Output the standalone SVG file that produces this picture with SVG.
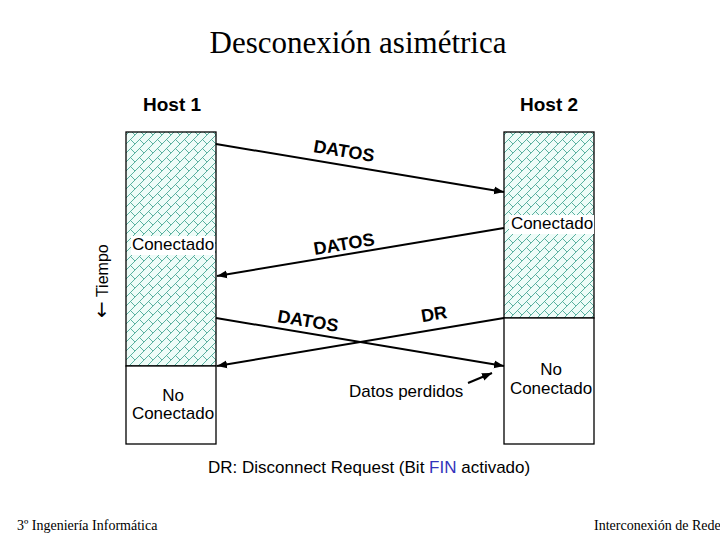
<svg xmlns="http://www.w3.org/2000/svg" width="720" height="540" viewBox="0 0 720 540">
<defs>
<pattern id="brick" width="9" height="9" patternUnits="userSpaceOnUse">
<rect width="9" height="9" fill="#eefcf8"/>
<path d="M0 9 L9 0 M-1 1 L1 -1 M8 10 L10 8 M4.5 4.5 L9 9" stroke="#4aa896" stroke-width="0.9" fill="none"/>
</pattern>
<marker id="ah" viewBox="0 0 10 10" refX="10" refY="5" markerWidth="5" markerHeight="5" orient="auto" markerUnits="strokeWidth">
<path d="M0 1 L10 5 L0 9 Z" fill="#000"/>
</marker>
<style>
.sans{font-family:"Liberation Sans",Arial,sans-serif;fill:#000}
.serif{font-family:"Liberation Serif","Times New Roman",serif;fill:#000}
.lbl{font-size:17px}
.bold{font-weight:bold}
.bar{stroke:#000;stroke-width:1.3}
.conn{stroke:#000;stroke-width:2;fill:none;marker-end:url(#ah)}
.bg{fill:#fff}
</style>
</defs>
<rect width="720" height="540" fill="#fff"/>
<text class="serif" x="358" y="53" font-size="31" text-anchor="middle">Desconexión asimétrica</text>
<g id="host1">
<text class="sans bold" x="143" y="111" font-size="19">Host 1</text>
<rect class="bar" x="126" y="132" width="90" height="234" fill="url(#brick)"/>
<rect class="bar" x="126" y="366" width="90" height="78" fill="#fff"/>
<rect class="bg" x="131" y="236" width="84" height="19"/>
<text class="sans lbl" x="173" y="250" text-anchor="middle">Conectado</text>
<text class="sans lbl" x="173" y="401" text-anchor="middle">No</text>
<text class="sans lbl" x="173" y="419" text-anchor="middle">Conectado</text>
</g>
<g id="host2">
<text class="sans bold" x="520" y="111" font-size="19">Host 2</text>
<rect class="bar" x="504" y="132" width="90" height="186" fill="url(#brick)"/>
<rect class="bar" x="504" y="318" width="90" height="126" fill="#fff"/>
<rect class="bg" x="509" y="215" width="85" height="19"/>
<text class="sans lbl" x="552" y="229" text-anchor="middle">Conectado</text>
<text class="sans lbl" x="551" y="375" text-anchor="middle">No</text>
<text class="sans lbl" x="551" y="394" text-anchor="middle">Conectado</text>
</g>
<g id="tiempo">
<text class="sans" font-size="16" transform="translate(108,318) rotate(-90)"><tspan font-family="DejaVu Sans" font-size="20">←</tspan> Tiempo</text>
</g>
<g id="connectors">
<line class="conn" x1="216" y1="144" x2="504" y2="192"/>
<line class="conn" x1="504" y1="228" x2="217" y2="276"/>
<line class="conn" x1="216" y1="318" x2="504" y2="366"/>
<line class="conn" x1="504" y1="318" x2="217" y2="366"/>
<line class="conn" x1="468" y1="383" x2="492" y2="373"/>
</g>
<g id="labels">
<text class="sans bold" font-size="18" text-anchor="middle" transform="translate(343,157) rotate(9.5)">DATOS</text>
<text class="sans bold" font-size="18" text-anchor="middle" transform="translate(345,250) rotate(-9.5)">DATOS</text>
<text class="sans bold" font-size="18" text-anchor="middle" transform="translate(307,327) rotate(9.5)">DATOS</text>
<text class="sans bold" font-size="18" text-anchor="middle" transform="translate(435,320) rotate(-9.5)">DR</text>
<text class="sans lbl" x="349" y="397">Datos perdidos</text>
</g>
<text class="sans lbl" x="208" y="473">DR: Disconnect Request (Bit <tspan fill="#3333bb">FIN</tspan> activado)</text>
<text class="serif" x="17" y="530" font-size="14">3º Ingeniería Informática</text>
<text class="serif" x="594" y="530" font-size="14">Interconexión de Rede</text>
</svg>
